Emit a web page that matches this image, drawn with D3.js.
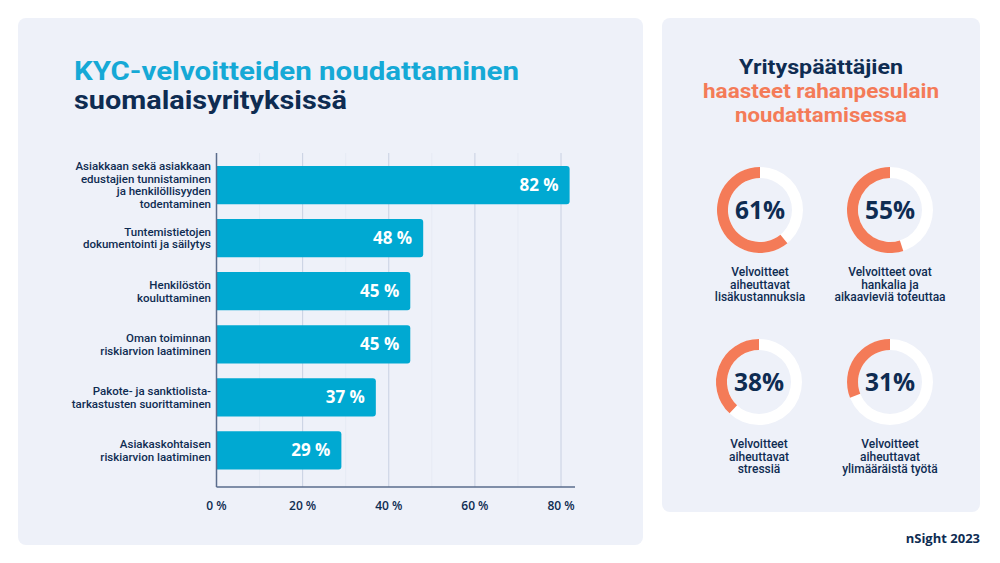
<!DOCTYPE html>
<html><head><meta charset="utf-8">
<script src="https://cdn.jsdelivr.net/npm/d3@7"></script>
<style>
html,body{margin:0;padding:0;background:#fff;}
svg{display:block;font-family:"Open Sans",sans-serif;}
.lbl{font-family:Roboto,"Liberation Sans",sans-serif;}
</style></head>
<body>
<svg id="c" width="1000" height="563"></svg>
<script>
const categories = [
  ["Asiakkaan sekä asiakkaan","edustajien tunnistaminen","ja henkilöllisyyden","todentaminen"],
  ["Tuntemistietojen","dokumentointi ja säilytys"],
  ["Henkilöstön","kouluttaminen"],
  ["Oman toiminnan","riskiarvion laatiminen"],
  ["Pakote- ja sanktiolista-","tarkastusten suorittaminen"],
  ["Asiakaskohtaisen","riskiarvion laatiminen"]
];
const values = [82, 48, 45, 45, 37, 29];
const xTicks = [0, 20, 40, 60, 80];
const minorTicks = [10, 30, 50, 70];

const donutValues = [61, 55, 38, 31];
const donutLabels = [
  ["Velvoitteet","aiheuttavat","lisäkustannuksia"],
  ["Velvoitteet ovat","hankalia ja","aikaavieviä toteuttaa"],
  ["Velvoitteet","aiheuttavat","stressiä"],
  ["Velvoitteet","aiheuttavat","ylimääräistä työtä"]
];
const rightTitle = ["Yrityspäättäjien","haasteet rahanpesulain","noudattamisessa"];

const NAVY = "#0e2c52", CYAN = "#00a9d2", ORANGE = "#f47b58", PANEL = "#eef1f9";
const svg = d3.select("#c");

// panels
svg.append("rect").attr("x",18).attr("y",18).attr("width",625).attr("height",527).attr("rx",8).attr("fill",PANEL);
svg.append("rect").attr("x",662).attr("y",18).attr("width",318).attr("height",494).attr("rx",8).attr("fill",PANEL);

// left title
svg.append("text").attr("x",74).attr("y",80).attr("fill","#15a9d6").attr("font-weight",700).attr("font-size",26)
  .attr("class","lbl")
  .attr("textLength",445).attr("lengthAdjust","spacingAndGlyphs").text("KYC-velvoitteiden noudattaminen");
svg.append("text").attr("x",74).attr("y",109).attr("fill",NAVY).attr("font-weight",700).attr("font-size",26)
  .attr("class","lbl")
  .attr("textLength",273).attr("lengthAdjust","spacingAndGlyphs").text("suomalaisyrityksissä");

// bar chart
const x = d3.scaleLinear().domain([0,80]).range([216.5,561]);
const y = d3.scaleBand().domain(d3.range(values.length)).range([158.5,477]).paddingInner(0.28).paddingOuter(0.14);
const g = svg.append("g");

g.selectAll("line.minor").data(minorTicks).join("line")
  .attr("x1",d=>x(d)).attr("x2",d=>x(d)).attr("y1",153).attr("y2",487)
  .attr("stroke","#e6eaf4").attr("stroke-width",1);
g.selectAll("line.grid").data(xTicks.slice(1)).join("line")
  .attr("x1",d=>x(d)).attr("x2",d=>x(d)).attr("y1",153).attr("y2",487)
  .attr("stroke","#c8d0e2").attr("stroke-width",1);

const r = 3;
g.selectAll("path.bar").data(values).join("path")
  .attr("fill",CYAN)
  .attr("d",(d,i)=>{
    const x0=x(0), x1=x(d), y0=y(i), h=y.bandwidth();
    return `M${x0},${y0}H${x1-r}Q${x1},${y0} ${x1},${y0+r}V${y0+h-r}Q${x1},${y0+h} ${x1-r},${y0+h}H${x0}Z`;
  });
g.selectAll("text.val").data(values).join("text")
  .attr("x",d=>x(d)-11).attr("y",(d,i)=>y(i)+y.bandwidth()/2+6)
  .attr("text-anchor","end").attr("fill","#fff").attr("font-weight",700).attr("font-size",17)
  .text(d=>d+" %");

// axis lines
g.append("line").attr("x1",x(0)).attr("x2",x(0)).attr("y1",153).attr("y2",487).attr("stroke","#5a6c8c").attr("stroke-width",1.5);
g.append("line").attr("x1",x(0)).attr("x2",575).attr("y1",487).attr("y2",487).attr("stroke","#5a6c8c").attr("stroke-width",1.5);

g.selectAll("text.tick").data(xTicks).join("text")
  .attr("x",d=>x(d)).attr("y",510).attr("text-anchor","middle").attr("fill",NAVY)
  .attr("font-size",12).attr("font-weight",600).text(d=>d+" %");

// category labels
categories.forEach((lines,i)=>{
  const cy = y(i)+y.bandwidth()/2;
  const lh = 12.7;
  const t = g.append("text").attr("class","lbl").attr("text-anchor","end").attr("fill",NAVY).attr("font-size",11.5).attr("font-weight",500);
  lines.forEach((ln,j)=>{
    t.append("tspan").attr("x",211).attr("y",cy + (j-(lines.length-1)/2)*lh + 4).text(ln);
  });
});

// right title
const rtWidths = [164, 236, 172];
const rtColors = [NAVY, ORANGE, ORANGE];
const rt = svg.append("text").attr("class","lbl").attr("text-anchor","middle").attr("font-weight",700).attr("font-size",20.5);
rightTitle.forEach((ln,j)=>{
  rt.append("tspan").attr("x",821).attr("y",74+j*24).attr("fill",rtColors[j])
    .attr("textLength",rtWidths[j]).attr("lengthAdjust","spacingAndGlyphs").text(ln);
});

// donuts
const centers = [[760,210],[890,210],[759,382],[890,382]];
const arc = d3.arc().innerRadius(32).outerRadius(43);
donutValues.forEach((v,i)=>{
  const [cx,cy] = centers[i];
  const dg = svg.append("g").attr("transform",`translate(${cx},${cy})`);
  dg.append("path").attr("d",arc({startAngle:0,endAngle:2*Math.PI})).attr("fill","#fff");
  dg.append("path").attr("d",arc({startAngle:-v/100*2*Math.PI,endAngle:0})).attr("fill",ORANGE);
  dg.append("text").attr("text-anchor","middle").attr("y",9).attr("fill",NAVY).attr("font-weight",700).attr("font-size",24.5).text(v+"%");
  const lt = svg.append("text").attr("class","lbl").attr("text-anchor","middle").attr("fill",NAVY).attr("font-size",12).attr("font-weight",500);
  donutLabels[i].forEach((ln,j)=>{
    lt.append("tspan").attr("x",cx).attr("y",cy+66+j*12.7).text(ln);
  });
});

svg.append("text").attr("x",980).attr("y",543).attr("text-anchor","end").attr("fill",NAVY)
  .attr("font-weight",700).attr("font-size",13).text("nSight 2023");
</script>
</body></html>
